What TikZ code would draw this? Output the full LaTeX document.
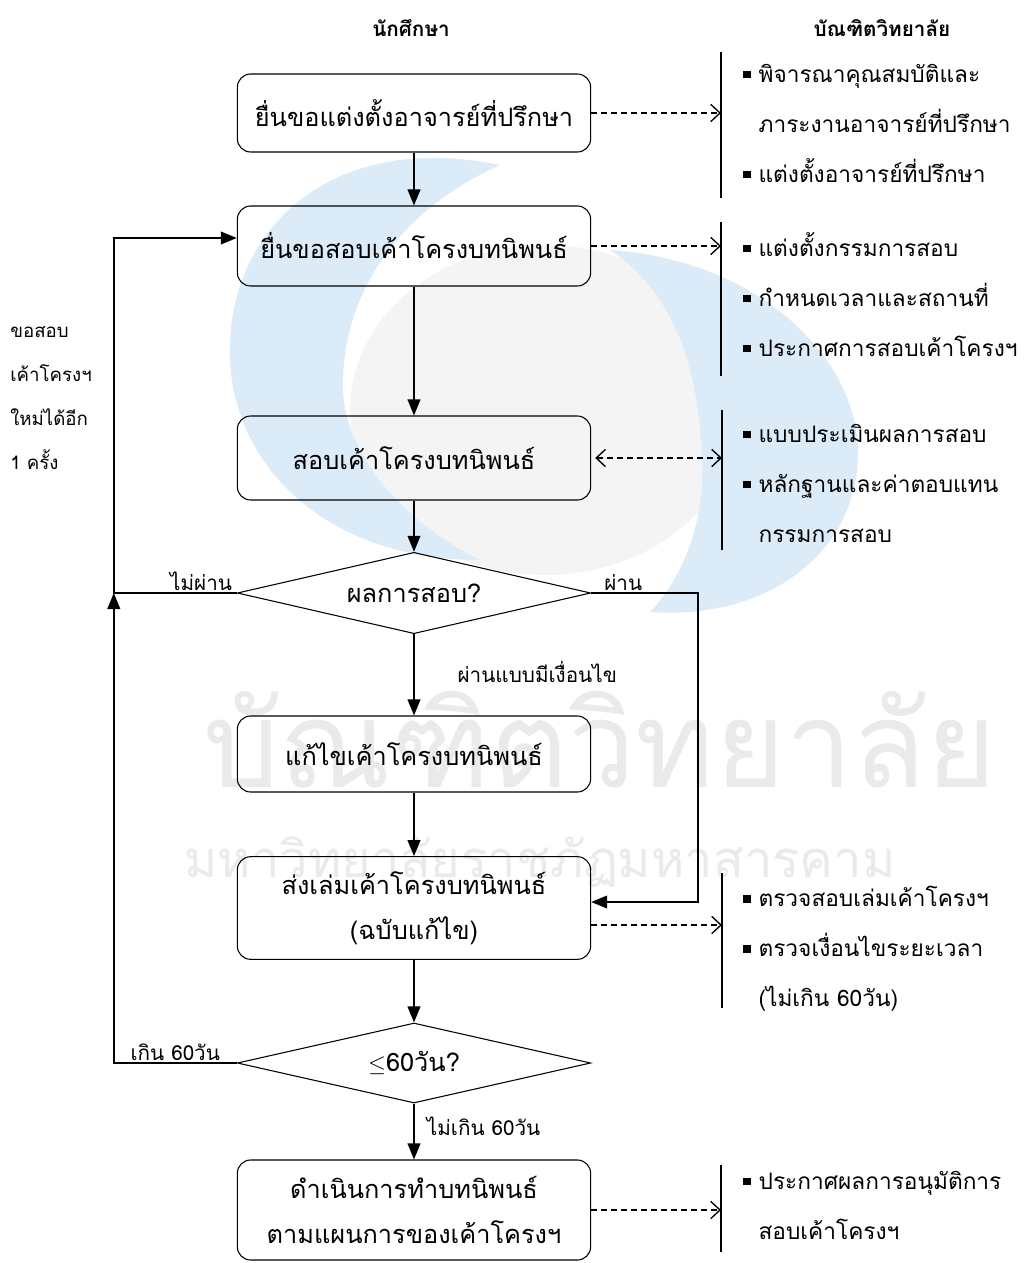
\documentclass[tikz,border=0pt]{standalone}
\usepackage{fontspec}
\setmainfont[Script=Thai]{Loma}
\usetikzlibrary{arrows.meta,shapes.geometric}
\definecolor{logoblue}{HTML}{DCEBF8}
\definecolor{logogrey}{HTML}{F4F4F4}
\definecolor{marktext}{HTML}{EAEAEA}
\newcommand{\boxfont}{\fontsize{19pt}{34pt}\selectfont}
\newcommand{\notefont}{\fontsize{17pt}{37.5pt}\selectfont}
\newcommand{\sqbul}{\rule[0.18em]{5.5pt}{5.5pt}\hspace{6pt}}
\newcommand{\nobul}{\hphantom{\sqbul}}
\tikzset{
  stepbox/.style={draw,rounded corners=10pt,line width=0.8pt,
    minimum width=265pt,align=center,font=\boxfont},
  decision/.style={draw,diamond,shape aspect=4.3,line width=0.8pt,
    minimum width=265pt,minimum height=61pt,inner sep=0pt,font=\boxfont},
  flow/.style={line width=1.4pt,-{Triangle[length=12pt,width=9.5pt]}},
  link/.style={line width=1pt,dash pattern=on 4.5pt off 3pt,
    -{Straight Barb[length=7pt,width=13pt]}},
  bar/.style={line width=1.4pt},
  lbl/.style={font=\fontsize{15.5pt}{18pt}\selectfont,inner sep=1pt},
  note/.style={anchor=north west,align=left,inner sep=0pt,font=\notefont},
}
\begin{document}
\begin{tikzpicture}[x=0.75pt,y=-0.75pt]
        \useasboundingbox (0,0) rectangle (1026,1263) ;
        \fill[white] (0,0) rectangle (1026,1263) ;
        %\draw[very thin,gray,step=50] (0,0) grid (1026,1263) ;
        % watermark
        \fill[logogrey] (545,410) ellipse [x radius=195,y radius=165] ;
        \fill[logoblue] (500,165) .. controls (330,130) and (225,230) .. (230,360)
        .. controls (235,470) and (330,560) .. (480,560)
        .. controls (400,520) and (340,450) .. (343,380)
        .. controls (345,290) and (400,210) .. (500,165) -- cycle ;
        \fill[logoblue] (610,250) .. controls (760,260) and (860,360) .. (858,456)
        .. controls (855,560) and (760,620) .. (650,612)
        .. controls (690,570) and (705,510) .. (702,456)
        .. controls (698,360) and (670,290) .. (610,250) -- cycle ;
        \node[font=\fontsize{90pt}{90pt}\selectfont,text=marktext] (markbig) at (600,740) {บัณฑิตวิทยาลัย} ;
        \node[font=\fontsize{38pt}{40pt}\selectfont,text=marktext] (marksmall) at (540,862) {มหาวิทยาลัยราชภัฏมหาสารคาม} ;
        % headings
        \node[font=\bfseries\fontsize{15.5pt}{18pt}\selectfont] (hstud) at (411,28) {นักศึกษา} ;
        \node[font=\bfseries\fontsize{15.5pt}{18pt}\selectfont] (hgrad) at (882,28) {บัณฑิตวิทยาลัย} ;
        % steps
        \node[stepbox,minimum height=58.5pt] (req) at (414,113) {ยื่นขอแต่งตั้งอาจารย์ที่ปรึกษา} ;
        \node[stepbox,minimum height=60pt] (propreq) at (414,246) {ยื่นขอสอบเค้าโครงบทนิพนธ์} ;
        \node[stepbox,minimum height=63pt] (exam) at (414,458) {สอบเค้าโครงบทนิพนธ์} ;
        \node[decision] (result) at (414,593) {ผลการสอบ?} ;
        \node[stepbox,minimum height=57pt] (revise) at (414,754) {แก้ไขเค้าโครงบทนิพนธ์} ;
        \node[stepbox,minimum height=77pt] (submit) at (414,908) {ส่งเล่มเค้าโครงบทนิพนธ์\\(ฉบับแก้ไข)} ;
        \node[decision,minimum height=60pt] (check) at (414,1063) {$\leq$60วัน?} ;
        \node[stepbox,minimum height=75pt] (work) at (414,1210) {ดำเนินการทำบทนิพนธ์\\ตามแผนการของเค้าโครงฯ} ;
        % main flow
        \draw[flow] (req) -- (propreq) ;
        \draw[flow] (propreq) -- (exam) ;
        \draw[flow] (exam) -- (result) ;
        \draw[flow] (result) -- node[lbl,midway,anchor=west,xshift=31pt,yshift=2pt] {ผ่านแบบมีเงื่อนไข} (revise) ;
        \draw[flow] (revise) -- (submit) ;
        \draw[flow] (submit) -- (check) ;
        \draw[flow] (check) -- node[lbl,midway,anchor=west,xshift=8pt,yshift=4pt] {ไม่เกิน 60วัน} (work) ;
        % loops
        \draw[flow] (result.west) -- node[lbl,above,pos=0.29] {ไม่ผ่าน} ++(-123,0) coordinate (loopL)
        |- ([yshift=6pt]propreq.west) ;
        \draw[flow] (check.west) -- node[lbl,above] {เกิน 60วัน} (check.west -| loopL) -- (loopL) ;
        \draw[flow] (result.east) -- node[lbl,above,pos=0.3] {ผ่าน} ++(107,0)
        |- ([yshift=4.5pt]submit.east) ;
        % bars on the right
        \coordinate (bar1a) at (721,52) ; \coordinate (bar1b) at (721,198) ;
        \coordinate (bar2a) at (721,222) ; \coordinate (bar2b) at (721,376) ;
        \coordinate (bar3a) at (722,410) ; \coordinate (bar3b) at (722,550) ;
        \coordinate (bar4a) at (722,873) ; \coordinate (bar4b) at (722,1008) ;
        \coordinate (bar5a) at (721,1165) ; \coordinate (bar5b) at (721,1252) ;
        \draw[bar] (bar1a) -- (bar1b) ;
        \draw[bar] (bar2a) -- (bar2b) ;
        \draw[bar] (bar3a) -- (bar3b) ;
        \draw[bar] (bar4a) -- (bar4b) ;
        \draw[bar] (bar5a) -- (bar5b) ;
        \draw[link] (req.east) -- (req.east -| bar1a) ;
        \draw[link] (propreq.east) -- (propreq.east -| bar2a) ;
        \draw[link,{Straight Barb[length=7pt,width=13pt]}-{Straight Barb[length=7pt,width=13pt]},shorten <=3pt]
        (exam.east) -- (exam.east -| bar3a) ;
        \draw[link] ([yshift=-12.75pt]submit.east) -- ([yshift=-12.75pt]submit.east -| bar4a) ;
        \draw[link] (work.east) -- (work.east -| bar5a) ;
        % notes
        \node[note] (n1) at (743,64) {\sqbul พิจารณาคุณสมบัติและ\\\nobul ภาระงานอาจารย์ที่ปรึกษา\\\sqbul แต่งตั้งอาจารย์ที่ปรึกษา} ;
        \node[note] (n2) at (743,232) {\sqbul แต่งตั้งกรรมการสอบ\\\sqbul กำหนดเวลาและสถานที่\\\sqbul ประกาศการสอบเค้าโครงฯ} ;
        \node[note] (n3) at (743,424) {\sqbul แบบประเมินผลการสอบ\\\sqbul หลักฐานและค่าตอบแทน\\\nobul กรรมการสอบ} ;
        \node[note] (n4) at (743,886) {\sqbul ตรวจสอบเล่มเค้าโครงฯ\\\sqbul ตรวจเงื่อนไขระยะเวลา\\\nobul (ไม่เกิน 60วัน)} ;
        \node[note] (n5) at (743,1171) {\sqbul ประกาศผลการอนุมัติการ\\\nobul สอบเค้าโครงฯ} ;
        \node[note,font=\fontsize{14pt}{33pt}\selectfont] (retry) at (10,326) {ขอสอบ\\เค้าโครงฯ\\ใหม่ได้อีก\\1 ครั้ง} ;
      \end{tikzpicture}
\end{document}
